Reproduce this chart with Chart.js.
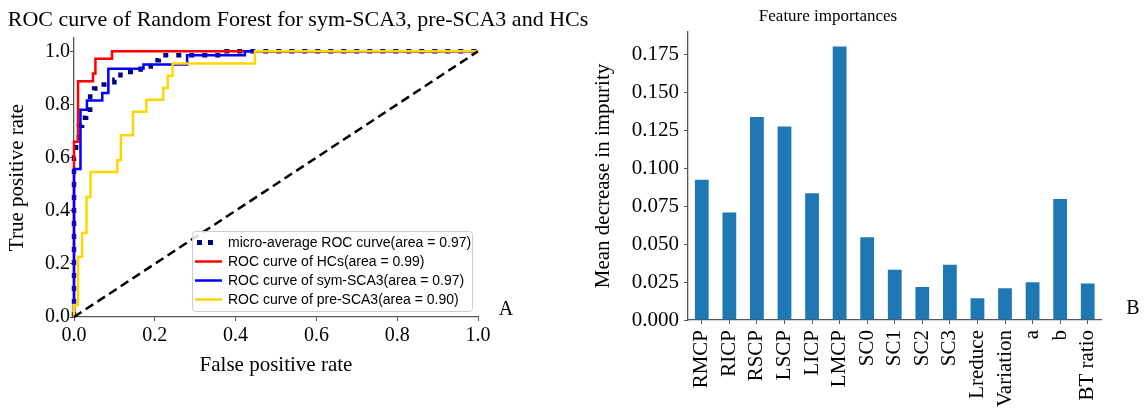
<!DOCTYPE html>
<html>
<head>
<meta charset="utf-8">
<script src="https://cdn.jsdelivr.net/npm/chart.js@4.4.0/dist/chart.umd.min.js"></script>
<style>
  html, body { margin: 0; padding: 0; background: #fff; }
  #wrap { position: relative; width: 1144px; height: 413px; overflow: hidden; }
  #roc-box { position: absolute; left: 0; top: 0; width: 590px; height: 413px; }
  #imp-box { position: absolute; left: 590px; top: 0; width: 554px; height: 413px; }
</style>
</head>
<body>
<div id="wrap">
  <div id="roc-box"><canvas id="roc"></canvas></div>
  <div id="imp-box"><canvas id="imp"></canvas></div>
</div>
<script>
// ROC curves (false positive rate / true positive rate)
const microFpr = [0, 0, 0.005, 0.005, 0.012, 0.012, 0.02, 0.02, 0.03, 0.03, 0.04, 0.04, 0.05, 0.05, 0.065, 0.065, 0.1, 0.1, 0.115, 0.115, 0.165, 0.165, 0.19, 0.19, 0.21, 0.21, 0.37, 0.37, 1];
const microTpr = [0, 0.6, 0.6, 0.66, 0.66, 0.72, 0.72, 0.75, 0.75, 0.78, 0.78, 0.83, 0.83, 0.86, 0.86, 0.875, 0.875, 0.893, 0.893, 0.922, 0.922, 0.934, 0.934, 0.966, 0.966, 0.985, 0.985, 1, 1];
const hcFpr = [0, 0, 0.01, 0.01, 0.047, 0.047, 0.053, 0.053, 0.094, 0.094, 1];
const hcTpr = [0, 0.66, 0.66, 0.887, 0.887, 0.916, 0.916, 0.972, 0.972, 1, 1];
const symFpr = [0, 0, 0.016, 0.016, 0.032, 0.032, 0.07, 0.07, 0.085, 0.085, 0.172, 0.172, 0.28, 0.28, 0.423, 0.423, 1];
const symTpr = [0, 0.557, 0.557, 0.78, 0.78, 0.815, 0.815, 0.843, 0.843, 0.934, 0.934, 0.95, 0.95, 0.985, 0.985, 1, 1];
const preFpr = [0, 0, 0.01, 0.01, 0.02, 0.02, 0.031, 0.031, 0.041, 0.041, 0.107, 0.107, 0.116, 0.116, 0.146, 0.146, 0.179, 0.179, 0.221, 0.221, 0.232, 0.232, 0.244, 0.244, 0.448, 0.448, 1];
const preTpr = [0, 0.045, 0.045, 0.227, 0.227, 0.316, 0.316, 0.452, 0.452, 0.546, 0.546, 0.59, 0.59, 0.684, 0.684, 0.772, 0.772, 0.818, 0.818, 0.862, 0.862, 0.908, 0.908, 0.954, 0.954, 1, 1];
const chanceFpr = [0, 1];
const chanceTpr = [0, 1];
const rocTicks = [0, 0.2, 0.4, 0.6, 0.8, 1.0];

// feature importances
const featureNames = ['RMCP', 'RICP', 'RSCP', 'LSCP', 'LICP', 'LMCP', 'SC0', 'SC1', 'SC2', 'SC3', 'Lreduce', 'Variation', 'a', 'b', 'BT ratio'];
const importances = [0.0925, 0.0709, 0.1339, 0.1277, 0.0837, 0.1805, 0.0546, 0.0332, 0.0218, 0.0365, 0.0143, 0.0209, 0.0249, 0.0799, 0.024];
const impTicks = [0, 0.025, 0.05, 0.075, 0.1, 0.125, 0.15, 0.175];

Chart.defaults.font.family = '"Liberation Serif", "Times New Roman", serif';
Chart.defaults.color = '#000';
Chart.defaults.animation = false;

const axisColor = '#555';
const serif = '"Liberation Serif", "Times New Roman", serif';

function toPoints(xs, ys) {
    return xs.map((x, i) => ({ x: x, y: ys[i] }));
}

const legendItems = [
    { label: 'micro-average ROC curve(area = 0.97)', color: '#000080', dotted: true },
    { label: 'ROC curve of HCs(area = 0.99)', color: '#ff0000' },
    { label: 'ROC curve of sym-SCA3(area = 0.97)', color: '#0000ff' },
    { label: 'ROC curve of pre-SCA3(area = 0.90)', color: '#ffd700' }
];

// title, panel letter and the legend inside the plot
const rocDecor = {
    id: 'rocDecor',
    afterDatasetsDraw(chart) {
        const { ctx, chartArea } = chart;
        const w = 280, h = 80;
        const x0 = chartArea.right - 6 - w;
        const y0 = chartArea.bottom - 6 - h;
        ctx.save();
        ctx.fillStyle = 'rgba(255,255,255,0.85)';
        ctx.strokeStyle = '#cccccc';
        ctx.lineWidth = 1;
        ctx.beginPath();
        ctx.roundRect(x0 + 0.5, y0 + 0.5, w, h, 3);
        ctx.fill();
        ctx.stroke();
        ctx.font = '14px "Liberation Sans", Arial, sans-serif';
        ctx.textBaseline = 'middle';
        ctx.textAlign = 'left';
        legendItems.forEach((it, i) => {
            const y = y0 + 11.5 + i * 19;
            ctx.strokeStyle = it.color;
            ctx.fillStyle = it.color;
            if (it.dotted) {
                ctx.fillRect(x0 + 5, y - 2.5, 5, 5);
                ctx.fillRect(x0 + 16, y - 2.5, 5, 5);
            } else {
                ctx.lineWidth = 2.5;
                ctx.beginPath();
                ctx.moveTo(x0 + 3, y);
                ctx.lineTo(x0 + 30, y);
                ctx.stroke();
            }
            ctx.fillStyle = '#000';
            ctx.fillText(it.label, x0 + 36, y + 1);
        });
        ctx.restore();
    },
    afterDraw(chart) {
        const { ctx } = chart;
        ctx.save();
        ctx.fillStyle = '#000';
        ctx.textBaseline = 'middle';
        ctx.textAlign = 'center';
        ctx.font = '22px ' + serif;
        ctx.fillText('ROC curve of Random Forest for sym-SCA3, pre-SCA3 and HCs', 298, 20);
        ctx.font = '20px ' + serif;
        ctx.fillText('A', 506, 310);
        ctx.restore();
    }
};

const impDecor = {
    id: 'impDecor',
    afterDraw(chart) {
        const { ctx } = chart;
        ctx.save();
        ctx.fillStyle = '#000';
        ctx.textBaseline = 'middle';
        ctx.textAlign = 'center';
        ctx.font = '17px ' + serif;
        ctx.fillText('Feature importances', 238, 17);
        ctx.font = '20px ' + serif;
        ctx.fillText('B', 543, 309);
        ctx.restore();
    }
};

new Chart(document.getElementById('roc'), {
    type: 'scatter',
    data: {
        datasets: [
            { label: 'chance', data: toPoints(chanceFpr, chanceTpr), borderColor: '#000', borderWidth: 2.5, borderDash: [9, 5], order: 0 },
            { label: legendItems[3].label, data: toPoints(preFpr, preTpr), borderColor: '#ffd700', borderWidth: 2.5, order: 1 },
            { label: legendItems[2].label, data: toPoints(symFpr, symTpr), borderColor: '#0000ff', borderWidth: 2.5, order: 2 },
            { label: legendItems[1].label, data: toPoints(hcFpr, hcTpr), borderColor: '#ff0000', borderWidth: 2.5, order: 3 },
            { label: legendItems[0].label, data: toPoints(microFpr, microTpr), borderColor: '#000080', borderWidth: 4.5, borderDash: [5, 8], borderCapStyle: 'butt', order: 4 }
        ].map(d => Object.assign({ showLine: true, pointRadius: 0, fill: false, tension: 0, clip: false }, d))
    },
    options: {
        responsive: true,
        maintainAspectRatio: false,
        layout: { padding: { left: 0, top: 38, right: 112, bottom: 0 } },
        plugins: { legend: { display: false }, tooltip: { enabled: false } },
        scales: {
            x: {
                type: 'linear', min: 0, max: 1,
                afterFit: s => { s.height = 96; },
                afterBuildTicks: s => { s.ticks = rocTicks.map(v => ({ value: v })); },
                ticks: { font: { size: 20 }, padding: 3, callback: v => Number(v).toFixed(1) },
                grid: { drawOnChartArea: false, drawTicks: true, tickLength: 4, color: axisColor },
                border: { color: axisColor, width: 1.3 },
                title: { display: true, text: 'False positive rate', font: { size: 21 }, padding: { top: 0, bottom: 35 } }
            },
            y: {
                type: 'linear', min: 0, max: 1.05,
                afterFit: s => { s.width = 74; },
                afterBuildTicks: s => { s.ticks = rocTicks.map(v => ({ value: v })); },
                ticks: { font: { size: 20 }, padding: 0, callback: v => Number(v).toFixed(1) },
                grid: { drawOnChartArea: false, drawTicks: true, tickLength: 4, color: axisColor },
                border: { color: axisColor, width: 1.3 },
                title: { display: true, text: 'True positive rate', font: { size: 21 }, padding: { top: 5, bottom: 0 } }
            }
        }
    },
    plugins: [rocDecor]
});

new Chart(document.getElementById('imp'), {
    type: 'bar',
    data: {
        labels: featureNames,
        datasets: [{
            label: 'Mean decrease in impurity',
            data: importances,
            backgroundColor: '#1f77b4',
            barPercentage: 0.5,
            categoryPercentage: 1.0
        }]
    },
    options: {
        responsive: true,
        maintainAspectRatio: false,
        layout: { padding: { left: 0, top: 32, right: 42.5, bottom: 0 } },
        plugins: { legend: { display: false }, tooltip: { enabled: false } },
        scales: {
            x: {
                afterFit: s => { s.height = 93; },
                ticks: { font: { size: 21 }, minRotation: 90, maxRotation: 90, autoSkip: false, padding: 6 },
                grid: { drawOnChartArea: false, drawTicks: true, tickLength: 4, color: axisColor, offset: false },
                border: { color: axisColor, width: 1.3 }
            },
            y: {
                type: 'linear', min: 0, max: 0.19,
                afterFit: s => { s.width = 98; },
                afterBuildTicks: s => { s.ticks = impTicks.map(v => ({ value: v })); },
                ticks: { font: { size: 21 }, padding: 5, callback: v => Number(v).toFixed(3) },
                grid: { drawOnChartArea: false, drawTicks: true, tickLength: 4, color: axisColor },
                border: { color: axisColor, width: 1.3 },
                title: { display: true, text: 'Mean decrease in impurity', font: { size: 21 }, padding: { top: 1, bottom: 0 } }
            }
        }
    },
    plugins: [impDecor]
});
</script>
</body>
</html>
